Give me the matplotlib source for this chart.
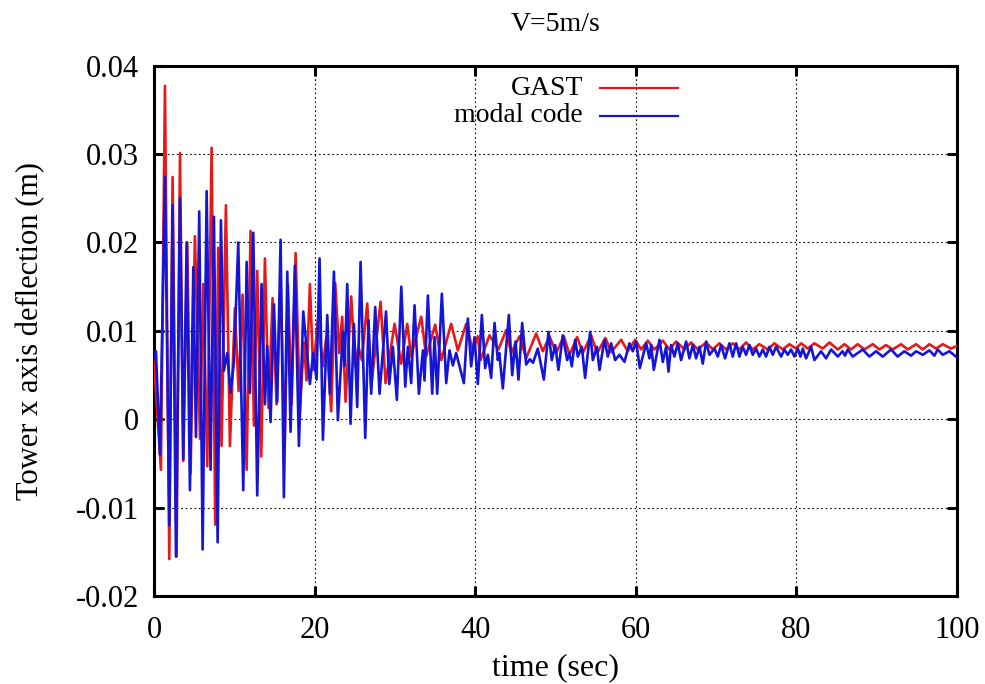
import matplotlib.pyplot as plt

# (time s, deflection m), peaks and troughs
gast = [
    (0.0, 0.0065), (0.87, -0.0057), (1.37, 0.0377), (1.91, -0.0158), (2.32, 0.0274),
    (2.82, -0.0155), (3.24, 0.0301), (3.65, -0.0047), (4.15, 0.0200), (4.56, -0.0061),
    (5.10, 0.0207), (5.73, -0.0022), (6.14, 0.0153), (6.64, -0.0053), (7.18, 0.0307),
    (7.63, -0.0119), (8.00, 0.0194), (8.42, -0.0030), (8.96, 0.0242), (9.46, -0.0030),
    (10.08, 0.0126), (10.54, 0.0032), (11.04, 0.0141), (11.54, -0.0057), (12.03, 0.0213),
    (12.45, -0.0007), (12.86, 0.0168), (13.36, -0.0042), (13.82, 0.0182), (14.27, 0.0013),
    (14.77, 0.0137), (15.27, 0.0017), (15.77, 0.0157), (16.27, -0.0034), (16.68, 0.0153),
    (17.14, 0.0017), (17.64, 0.0188), (18.17, 0.0009), (18.67, 0.0087), (19.00, 0.0044),
    (19.42, 0.0153), (19.83, 0.0056), (20.41, 0.0112), (21.04, 0.0060), (21.45, 0.0093),
    (22.07, 0.0009), (22.57, 0.0154), (23.07, 0.0075), (23.44, 0.0116), (23.86, 0.0020),
    (24.56, 0.0139), (25.06, 0.0060), (25.47, 0.0082), (25.89, 0.0067), (26.56, 0.0131),
    (27.05, 0.0037), (28.22, 0.0133), (28.84, 0.0041), (29.96, 0.0108), (30.79, 0.0063),
    (31.54, 0.0108), (32.03, 0.0071), (33.28, 0.0116), (33.90, 0.0071), (35.02, 0.0107),
    (35.77, 0.0067), (37.01, 0.0108), (37.84, 0.0078), (38.88, 0.0108), (39.71, 0.0078),
    (40.33, 0.0094), (40.66, 0.0067), (41.78, 0.0095), (42.90, 0.0079), (43.86, 0.0101),
    (44.48, 0.0075), (45.52, 0.0094), (46.35, 0.0069), (47.59, 0.0097), (48.42, 0.0077),
    (49.25, 0.0094), (50.08, 0.0075), (51.04, 0.0094), (51.74, 0.0073), (52.70, 0.0093),
    (53.40, 0.0075), (54.44, 0.0095), (55.19, 0.0075), (56.22, 0.0092), (56.93, 0.0076),
    (58.17, 0.0090), (59.00, 0.0077), (59.92, 0.0090), (60.66, 0.0079), (61.49, 0.0089),
    (62.32, 0.0079), (63.36, 0.0089), (64.19, 0.0079), (65.02, 0.0088), (66.06, 0.0079),
    (66.89, 0.0087), (67.72, 0.0079), (68.76, 0.0087), (69.59, 0.0079), (70.41, 0.0086),
    (71.24, 0.0079), (72.07, 0.0086), (72.90, 0.0079), (73.73, 0.0087), (74.56, 0.0079),
    (75.39, 0.0085), (76.43, 0.0079), (77.26, 0.0086), (78.30, 0.0079), (79.13, 0.0085),
    (79.96, 0.0080), (80.58, 0.0086), (81.41, 0.0080), (82.24, 0.0086), (83.28, 0.0080),
    (84.11, 0.0087), (85.15, 0.0079), (85.98, 0.0085), (86.80, 0.0079), (87.63, 0.0085),
    (88.46, 0.0079), (89.50, 0.0085), (90.33, 0.0079), (91.16, 0.0084), (91.99, 0.0079),
    (93.03, 0.0085), (93.86, 0.0079), (94.90, 0.0085), (95.73, 0.0079), (96.56, 0.0085),
    (97.39, 0.0080), (98.22, 0.0085), (99.25, 0.0080), (100.0, 0.0083),
]

modal = [
    (0.0, 0.0070), (0.25, 0.0077), (0.75, -0.0040), (1.37, 0.0274), (1.91, -0.0120),
    (2.32, 0.0242), (2.74, -0.0155), (3.24, 0.0250), (3.65, -0.0045), (4.07, 0.0200),
    (4.48, -0.0080), (4.90, 0.0172), (5.23, -0.0020), (5.64, 0.0235), (6.06, -0.0147),
    (6.56, 0.0258), (7.05, -0.0057), (7.47, 0.0229), (7.93, -0.0139), (8.34, 0.0225),
    (8.71, 0.0055), (9.13, 0.0075), (9.54, 0.0030), (9.96, 0.0065), (10.50, 0.0200),
    (11.12, -0.0080), (11.54, 0.0178), (11.95, 0.0030), (12.37, 0.0211), (12.86, -0.0086),
    (13.40, 0.0153), (13.82, 0.0017), (14.11, 0.0083), (14.52, -0.0003), (14.94, 0.0130),
    (15.35, 0.0020), (15.77, 0.0203), (16.18, -0.0088), (16.60, 0.0167), (17.01, -0.0014),
    (17.55, 0.0174), (18.05, -0.0030), (18.59, 0.0122), (19.42, 0.0040), (19.83, 0.0075),
    (20.25, 0.0045), (20.62, 0.0182), (21.04, -0.0023), (21.58, 0.0118), (21.91, 0.0029),
    (22.41, 0.0167), (22.90, -0.0001), (23.53, 0.0099), (23.73, 0.0060), (24.07, 0.0153),
    (24.48, -0.0005), (24.90, 0.0108), (25.31, 0.0014), (25.73, 0.0178), (26.31, -0.0021),
    (26.72, 0.0112), (27.05, 0.0029), (27.55, 0.0127), (28.09, 0.0029), (28.90, 0.0122),
    (29.30, 0.0040), (29.75, 0.0082), (30.25, 0.0022), (30.80, 0.0150), (31.29, 0.0037),
    (31.62, 0.0082), (32.03, 0.0041), (32.45, 0.0129), (32.99, 0.0029), (33.49, 0.0078),
    (33.69, 0.0044), (34.11, 0.0140), (34.65, 0.0029), (34.94, 0.0093), (35.27, 0.0029),
    (35.85, 0.0142), (36.39, 0.0041), (36.80, 0.0078), (37.22, 0.0061), (37.63, 0.0075),
    (38.59, 0.0041), (39.09, 0.0114), (39.50, 0.0060), (39.92, 0.0093), (40.33, 0.0040),
    (40.83, 0.0118), (41.24, 0.0058), (41.58, 0.0073), (41.99, 0.0047), (42.41, 0.0109),
    (42.82, 0.0067), (43.00, 0.0075), (43.44, 0.0035), (44.19, 0.0118), (44.61, 0.0050),
    (45.02, 0.0088), (45.39, 0.0045), (45.85, 0.0109), (46.35, 0.0062), (46.80, 0.0068),
    (47.20, 0.0064), (47.80, 0.0080), (48.55, 0.0045), (49.13, 0.0099), (49.54, 0.0067),
    (49.96, 0.0084), (50.37, 0.0056), (50.91, 0.0095), (51.45, 0.0067), (51.74, 0.0075),
    (52.03, 0.0060), (52.45, 0.0090), (52.78, 0.0071), (53.28, 0.0082), (53.69, 0.0047),
    (54.32, 0.0099), (54.65, 0.0067), (55.15, 0.0082), (55.48, 0.0056), (56.10, 0.0090),
    (56.52, 0.0071), (56.93, 0.0086), (57.43, 0.0067), (57.97, 0.0073), (58.59, 0.0065),
    (59.21, 0.0086), (59.63, 0.0077), (60.04, 0.0088), (60.50, 0.0058), (61.29, 0.0086),
    (61.70, 0.0069), (61.91, 0.0084), (62.24, 0.0056), (62.95, 0.0090), (63.36, 0.0065),
    (63.78, 0.0082), (64.07, 0.0054), (64.40, 0.0084), (64.81, 0.0071), (65.23, 0.0086),
    (65.64, 0.0067), (66.27, 0.0088), (66.68, 0.0069), (67.10, 0.0084), (67.51, 0.0069),
    (67.93, 0.0082), (68.34, 0.0063), (68.76, 0.0088), (69.17, 0.0073), (69.79, 0.0080),
    (70.21, 0.0071), (70.62, 0.0084), (71.12, 0.0069), (71.66, 0.0086), (72.07, 0.0071),
    (72.49, 0.0086), (72.90, 0.0071), (73.32, 0.0082), (73.73, 0.0073), (74.15, 0.0084),
    (74.56, 0.0073), (74.98, 0.0080), (75.39, 0.0071), (75.81, 0.0079), (76.22, 0.0071),
    (76.64, 0.0082), (77.05, 0.0073), (77.47, 0.0082), (78.09, 0.0071), (78.51, 0.0079),
    (78.92, 0.0073), (79.34, 0.0079), (79.75, 0.0071), (80.17, 0.0080), (80.50, 0.0071),
    (80.79, 0.0080), (81.20, 0.0069), (81.83, 0.0082), (82.24, 0.0067), (83.07, 0.0077),
    (83.69, 0.0069), (84.32, 0.0079), (85.15, 0.0071), (85.75, 0.0077), (86.05, 0.0072),
    (86.39, 0.0079), (87.01, 0.0071), (88.26, 0.0079), (89.09, 0.0071), (89.92, 0.0077),
    (90.75, 0.0071), (91.78, 0.0079), (92.61, 0.0071), (93.44, 0.0077), (94.27, 0.0072),
    (94.90, 0.0077), (95.73, 0.0073), (96.56, 0.0078), (97.18, 0.0072), (97.59, 0.0079),
    (98.22, 0.0073), (99.05, 0.0077), (100.0, 0.0070),
]

x_ticks = [0, 20, 40, 60, 80, 100]
y_ticks = [-0.02, -0.01, 0, 0.01, 0.02, 0.03, 0.04]
y_tick_labels = ['-0.02', '-0.01', '0', '0.01', '0.02', '0.03', '0.04']
series_names = ['GAST', 'modal code']
series_colors = ['#e81818', '#1515d8']

plt.rcParams['font.family'] = ['Liberation Serif', 'DejaVu Serif']

fig = plt.figure(figsize=(9.85, 6.84), dpi=100)
ax = fig.add_axes([0.1563, 0.1282, 0.8153, 0.7760])

for data, color in zip([gast, modal], series_colors):
    t, x = zip(*data)
    ax.plot(t, x, color=color, linewidth=1.9, zorder=3)

ax.set_xlim(0, 100)
ax.set_ylim(-0.02, 0.04)
ax.set_xticks(x_ticks)
ax.set_yticks(y_ticks, y_tick_labels)
ax.grid(True, color='black', linewidth=0.8, linestyle=(0, (1.5, 2.5)))

for s in ax.spines.values():
    s.set_linewidth(2.2)
ax.tick_params(direction='in', length=7, width=2.2, top=True, right=True,
               labelsize=22)
ax.tick_params(axis='y', pad=11)
ax.tick_params(axis='x', pad=14)

ax.set_title('V=5m/s', fontsize=20, pad=25)
ax.set_xlabel('time (sec)', fontsize=23, labelpad=6)
ax.set_ylabel('Tower x axis deflection (m)', fontsize=22, labelpad=22)

# легенда вручную, как в gnuplot: текст справа налево, потом отрезок линии
for i, (name, color) in enumerate(zip(series_names, series_colors)):
    yy = 0.957 - i * 0.052
    ax.text(0.534, yy, name, transform=ax.transAxes, fontsize=20,
            ha='right', va='center', zorder=5)
    ax.plot([0.555, 0.652], [yy, yy], transform=ax.transAxes, color=color,
            linewidth=1.6, zorder=5)

fig.savefig('out.png', dpi=100)
